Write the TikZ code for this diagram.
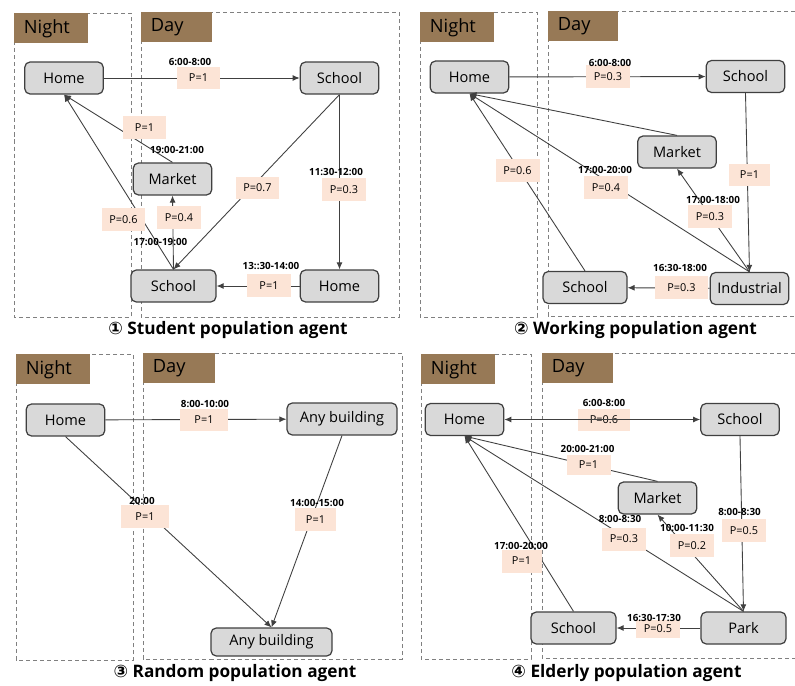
\documentclass[tikz,border=0pt]{standalone}
\usepackage{fontspec}
\setmainfont{Open Sans}
\newfontfamily\circfont{DejaVu Sans}
\usepackage{tikz}
\usetikzlibrary{arrows.meta}
\definecolor{tagbrown}{RGB}{151,121,86}
\definecolor{probpink}{RGB}{252,228,214}
\definecolor{placegray}{RGB}{217,217,217}
\definecolor{linegray}{RGB}{64,64,64}

\begin{document}
\begin{tikzpicture}[x=0.02cm, y=-0.02cm, >={Latex[length=4pt,width=3.4pt]},
           place/.style={draw=linegray, fill=placegray, rounded corners=3pt, line width=0.7pt,
              minimum width=1.57cm, minimum height=0.64cm, inner sep=0pt, font=\fontsize{8.3}{9}\selectfont},
           prob/.style={fill=probpink, minimum width=0.88cm, minimum height=0.46cm, inner sep=0pt,
              font=\fontsize{6.2}{7}\selectfont},
           timing/.style={inner sep=0pt, font=\bfseries\fontsize{5.6}{6}\selectfont},
           zone/.style={draw=gray, dash pattern=on 2.3pt off 1.7pt, line width=0.5pt},
           zonetag/.style={fill=tagbrown, anchor=north west, minimum height=0.6cm, inner xsep=0.19cm,
              text width=1.1cm, align=left, font=\fontsize{10.4}{12}\selectfont},
           caption/.style={inner sep=0pt, font=\bfseries\fontsize{9.8}{11}\selectfont},
           connections/.style={->, draw=linegray, line width=0.5pt},
           bothConnections/.style={<->, draw=linegray, line width=0.5pt},
        ]
        \fill[white] (0,0) rectangle (795,686);
        \useasboundingbox (0,0) rectangle (795,686);

        % student
        \draw[zone] (14,13) rectangle (131,317);
        \draw[zone] (141,12) rectangle (399,317);
        \node at (14,13) (stNight) [zonetag] {Night};
        \node at (141,12) (stDay) [zonetag, text width=1.04cm] {Day};
        \node at (64,78) (stHome) [place] {Home};
        \node at (339.5,78) (stSchool) [place] {School};
        \node at (172.5,179) (stMarket) [place] {Market};
        \node at (173.5,286) (stSchoolB) [place, minimum width=1.7cm] {School};
        \node at (339.5,286) (stHomeB) [place] {Home};
        \draw[connections] (stHome) -- (stSchool);
        \draw[connections] (stMarket.north) -- (stHome.south);
        \draw[connections] (stSchoolB.north) -- (stHome.south);
        \draw[connections] (stSchoolB.north) -- (stMarket.south);
        \draw[connections] (stSchool.south) -- (stSchoolB.north);
        \draw[connections] (stSchool) -- (stHomeB);
        \draw[connections] (stHomeB) -- (stSchoolB);
        \node at (198.5,78) (stP1) [prob] {P=1};
        \node at (190,62) (stT1) [timing] {6:00-8:00};
        \node at (144.5,127.5) (stP2) [prob] {P=1};
        \node at (177,150) (stT2) [timing] {19:00-21:00};
        \node at (123.5,219.5) (stP3) [prob] {P=0.6};
        \node at (179,217.5) (stP4) [prob] {P=0.4};
        \node at (160.5,242) (stT4) [timing] {17:00-19:00};
        \node at (257.5,188) (stP5) [prob] {P=0.7};
        \node at (344,189.5) (stP6) [prob] {P=0.3};
        \node at (336,172) (stT6) [timing] {11:30-12:00};
        \node at (269,285.5) (stP7) [prob] {P=1};
        \node at (271,266) (stT7) [timing] {13::30-14:00};
        \node at (228,330) (stTitle) [caption] {{\circfont ①} Student population agent};

        % working
        \draw[zone] (420,12) rectangle (537,317);
        \draw[zone] (795,11) -- (548,11) -- (548,316) -- (795,316);
        \node at (420,12) (wkNight) [zonetag] {Night};
        \node at (548,11) (wkDay) [zonetag, text width=1.02cm] {Day};
        \node at (469.5,77) (wkHome) [place] {Home};
        \node at (745.5,76.5) (wkSchool) [place] {School};
        \node at (677,152) (wkMarket) [place] {Market};
        \node at (585,287.5) (wkSchoolB) [place, minimum width=1.68cm] {School};
        \node at (749.5,288.5) (wkIndustrial) [place] {Industrial};
        \draw[connections] (wkHome) -- (wkSchool);
        \draw[connections] (wkMarket.north) -- (wkHome.south);
        \draw[connections] (wkIndustrial.north) -- (wkHome.south);
        \draw[connections] (wkSchoolB.north) -- (wkHome.south);
        \draw[connections] (wkIndustrial.north) -- (wkMarket.south);
        \draw[connections] (wkSchool.south) -- (wkIndustrial.north);
        \draw[connections] (wkIndustrial) -- (wkSchoolB);
        \node at (608,76.5) (wkP1) [prob] {P=0.3};
        \node at (610,62.5) (wkT1) [timing] {6:00-8:00};
        \node at (606,187.5) (wkP2) [prob] {P=0.4};
        \node at (605,170) (wkT2) [timing] {17:00-20:00};
        \node at (517.5,170.5) (wkP3) [prob] {P=0.6};
        \node at (710,216.5) (wkP4) [prob] {P=0.3};
        \node at (713,200) (wkT4) [timing] {17:00-18:00};
        \node at (749.5,175) (wkP5) [prob, minimum width=0.82cm] {P=1};
        \node at (681.5,287.5) (wkP6) [prob, minimum width=1.06cm] {P=0.3};
        \node at (680,268) (wkT6) [timing] {16:30-18:00};
        \node at (635.5,330) (wkTitle) [caption] {{\circfont ②} Working population agent};

        % random
        \draw[zone] (16,354) rectangle (133,660);
        \draw[zone] (143,353) rectangle (402,659);
        \node at (16,354) (rdNight) [zonetag] {Night};
        \node at (143,353) (rdDay) [zonetag, text width=1.06cm] {Day};
        \node at (65.5,420) (rdHome) [place] {Home};
        \node at (342,419) (rdAny) [place, minimum width=2.2cm] {Any building};
        \node at (271.5,642) (rdAnyB) [place, minimum width=2.42cm, minimum height=0.56cm] {Any building};
        \draw[connections] (rdHome) -- (rdAny);
        \draw[connections] (rdHome.south) -- (rdAnyB.north);
        \draw[connections] (rdAny.south) -- (rdAnyB.north);
        \node at (204,420) (rdP1) [prob, minimum width=0.96cm] {P=1};
        \node at (205,404) (rdT1) [timing] {8:00-10:00};
        \node at (145,516.5) (rdP2) [prob, minimum width=0.96cm] {P=1};
        \node at (142,501) (rdT2) [timing] {20:00};
        \node at (315.5,519.5) (rdP3) [prob, minimum width=0.82cm] {P=1};
        \node at (317,503) (rdT3) [timing] {14:00-15:00};
        \node at (235,673) (rdTitle) [caption] {{\circfont ③} Random population agent};

        % elderly
        \draw[zone] (421,354) rectangle (531,659);
        \draw[zone] (795,353) -- (542,353) -- (542,658) -- (795,658);
        \node at (421,354) (elNight) [zonetag] {Night};
        \node at (542,353) (elDay) [zonetag, text width=1.04cm] {Day};
        \node at (464.5,419.5) (elHome) [place] {Home};
        \node at (740,419.5) (elSchool) [place] {School};
        \node at (657.5,498) (elMarket) [place] {Market};
        \node at (573.5,628) (elSchoolB) [place, minimum width=1.7cm] {School};
        \node at (743.5,628) (elPark) [place, minimum width=1.7cm] {Park};
        \draw[connections] (elMarket.north) -- (elHome.south);
        \draw[connections] (elPark.north) -- (elHome.south);
        \draw[connections] (elSchoolB.north) -- (elHome.south);
        \draw[connections] (elPark.north) -- (elMarket.south);
        \draw[connections] (elSchool.south) -- (elPark.north);
        \draw[connections] (elPark) -- (elSchoolB);
        \node at (604,420) (elP1) [prob, minimum width=1.04cm] {P=0.6};
        \draw[bothConnections] (elHome) -- (elSchool);
        \node at (604,403) (elT1) [timing] {6:00-8:00};
        \node at (588.5,464.5) (elP2) [prob, minimum height=0.4cm] {P=1};
        \node at (587.5,449) (elT2) [timing] {20:00-21:00};
        \node at (624,539) (elP3) [prob] {P=0.3};
        \node at (620,519) (elT3) [timing] {8:00-8:30};
        \node at (521.5,561) (elP4) [prob, minimum width=0.8cm] {P=1};
        \node at (521,546) (elT4) [timing] {17:00-20:00};
        \node at (692,545.5) (elP5) [prob] {P=0.2};
        \node at (687,528) (elT5) [timing] {10:00-11:30};
        \node at (744,530.5) (elP6) [prob] {P=0.5};
        \node at (739.5,512) (elT6) [timing] {8:00-8:30};
        \node at (658,629) (elP7) [prob, minimum height=0.36cm] {P=0.5};
        \node at (654,618) (elT7) [timing] {16:30-17:30};
        \node at (626.5,673) (elTitle) [caption] {{\circfont ④} Elderly population agent};
     \end{tikzpicture}
\end{document}
